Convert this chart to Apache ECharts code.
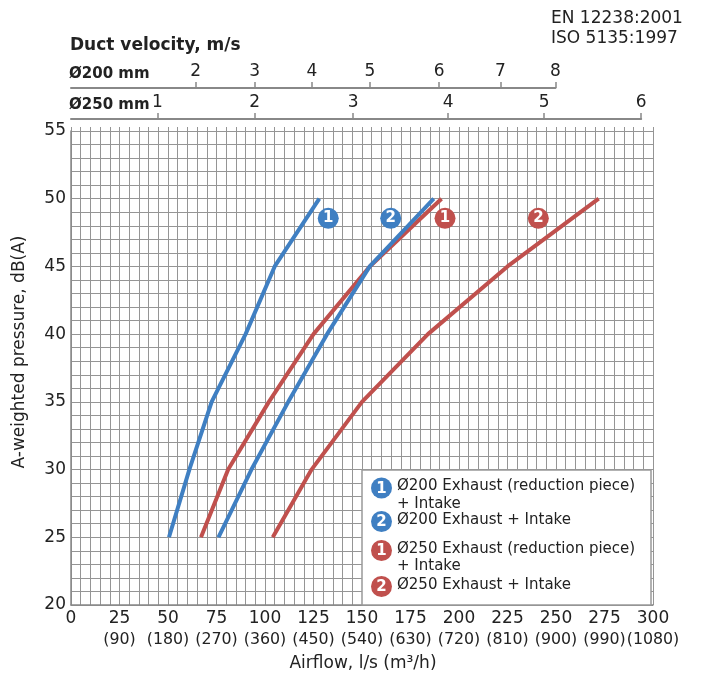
<!DOCTYPE html>
<html><head><meta charset="utf-8">
<script src="https://cdn.jsdelivr.net/npm/echarts@6/dist/echarts.min.js"></script>
<style>html,body{margin:0;padding:0;background:#fff}#c{width:701px;height:684px}</style>
</head><body><div id="c"></div>
<script>
// ---- data ----
const airflowTicks = [0, 25, 50, 75, 100, 125, 150, 175, 200, 225, 250, 275, 300];
const airflowM3h = ['', '(90)', '(180)', '(270)', '(360)', '(450)', '(540)', '(630)', '(720)', '(810)', '(900)', '(990)', '(1080)'];
const dbTicks = [20, 25, 30, 35, 40, 45, 50, 55];

const vel200Labels = ['2', '3', '4', '5', '6', '7', '8'];
const vel200AtAirflow = [64.3, 94.7, 124.2, 154.1, 189.8, 221.3, 249.7];
const vel250Labels = ['1', '2', '3', '4', '5', '6'];
const vel250AtAirflow = [44.5, 94.7, 145.4, 194.4, 243.9, 293.9];

const seriesNames = [
  'Ø200 Exhaust (reduction piece) + Intake',
  'Ø200 Exhaust + Intake',
  'Ø250 Exhaust (reduction piece) + Intake',
  'Ø250 Exhaust + Intake'
];
const seriesNums = ['1', '2', '1', '2'];
const d200Reduction = [[50.5, 25], [61, 30], [72.5, 35], [90, 40], [105, 45], [128, 50]];
const d200Plain     = [[76, 25], [93, 30], [112, 35], [132, 40], [154, 45], [187, 50]];
const d250Reduction = [[67, 25], [81, 30], [102, 35], [125, 40], [154, 45], [191, 50]];
const d250Plain     = [[104, 25], [124, 30], [150, 35], [184, 40], [225, 45], [272, 50]];
const curveMarkerX = [132.6, 164.8, 192.8, 240.9];
const curveMarkerY = [48.55, 48.55, 48.55, 48.55];

// ---- style ----
const BLUE = '#3f7fc2', RED = '#c0504d';
const colors = [BLUE, BLUE, RED, RED];
const FONT = 'DejaVu Sans';
const TXT = '#222';
const GRIDC = '#959595';
const L = 71, T = 131, W = 582, H = 474;
const pxPer = W / 300;

const splitCfg = {
  splitLine: { show: true, lineStyle: { color: GRIDC, width: 1 } },
  minorTick: { show: true, splitNumber: 5, length: 0 },
  minorSplitLine: { show: true, lineStyle: { color: GRIDC, width: 1 } }
};

const chart = echarts.init(document.getElementById('c'));

const allData = [d200Reduction, d200Plain, d250Reduction, d250Plain];
const drawOrder = [3, 2, 1, 0];
const lineSeries = drawOrder.map(i => ({
  name: seriesNames[i], type: 'line', xAxisIndex: 0, yAxisIndex: 0,
  data: allData[i], showSymbol: false, symbol: 'none',
  lineStyle: { color: colors[i], width: 4 }, itemStyle: { color: colors[i] },
  z: 3
}));
const markerSeries = {
  type: 'scatter', xAxisIndex: 0, yAxisIndex: 0, symbol: 'circle', symbolSize: 21, z: 5,
  data: curveMarkerX.map((x, i) => ({
    value: [x, curveMarkerY[i]], itemStyle: { color: colors[i], opacity: 1 },
    label: { show: true, formatter: seriesNums[i], position: 'inside', color: '#fff', fontSize: 15, fontWeight: 'bold', fontFamily: FONT }
  }))
};

// legend graphic
const lgX = 362, lgY = 470, lgW = 289, lgH = 135;
const lgCircleY = [488, 521.5, 550.5, 586.5];
const lgTextLines = [
  [seriesNames[0].replace(' + Intake', ''), '+ Intake'],
  [seriesNames[1]],
  [seriesNames[2].replace(' + Intake', ''), '+ Intake'],
  [seriesNames[3]]
];
const legendEls = [{
  type: 'rect', shape: { x: lgX, y: lgY, width: lgW, height: lgH },
  style: { fill: '#fff', stroke: '#999', lineWidth: 1.5 }, z: 100
}];
lgTextLines.forEach((lines, i) => {
  legendEls.push({ type: 'circle', shape: { cx: 381.5, cy: lgCircleY[i], r: 10.5 }, style: { fill: colors[i] }, z: 101 });
  legendEls.push({ type: 'text', x: 381.5, y: lgCircleY[i] + 1, z: 102,
    style: { text: seriesNums[i], fill: '#fff', font: 'bold 15px ' + FONT, textAlign: 'center', textVerticalAlign: 'middle', align: 'center', verticalAlign: 'middle' } });
  lines.forEach((t, j) => {
    legendEls.push({ type: 'text', x: 397, y: lgCircleY[i] - 1.5 + j * 17.5, z: 102,
      style: { text: t, fill: TXT, font: '15px ' + FONT, textVerticalAlign: 'middle', verticalAlign: 'middle' } });
  });
});

const txt = (text, x, y, font, align) => ({
  type: 'text', x: x, y: y, z: 100,
  style: { text: text, fill: TXT, font: font, textAlign: align || 'left', align: align || 'left', textVerticalAlign: 'middle', verticalAlign: 'middle' }
});

const w200 = vel200AtAirflow[vel200AtAirflow.length - 1] * pxPer;
const w250 = vel250AtAirflow[vel250AtAirflow.length - 1] * pxPer;

const velAxis = (grid, pos, labels) => ({
  gridIndex: grid, type: 'value', position: 'top', min: 0, max: pos[pos.length - 1],
  axisLine: { show: true, onZero: false, lineStyle: { color: '#888', width: 2 } },
  axisTick: { show: true, customValues: pos, length: 6, lineStyle: { color: '#888', width: 1.5 } },
  axisLabel: { customValues: pos, color: TXT, fontSize: 17, fontFamily: FONT, margin: 8, showMinLabel: true, showMaxLabel: true,
    formatter: v => labels[pos.indexOf(v)] || '' },
  splitLine: { show: false }
});

chart.setOption({
  animation: false,
  backgroundColor: '#fff',
  grid: [
    { left: L, top: T, width: W, height: H },
    { left: L, top: T - 4, width: W, height: 4 },
    { left: L, top: 88, width: w200, height: 10 },
    { left: L, top: 119, width: w250, height: 10 }
  ],
  xAxis: [
    Object.assign({
      gridIndex: 0, type: 'value', min: 0, max: 300, interval: 25,
      axisLine: { show: true, onZero: false, lineStyle: { color: '#888', width: 1.5 } },
      axisTick: { show: false },
      axisLabel: {
        color: TXT, fontSize: 17, fontFamily: FONT, lineHeight: 21, margin: 3,
        showMinLabel: true, showMaxLabel: true, hideOverlap: false,
        rich: { b: { fontSize: 15.8, fontFamily: FONT, color: TXT, lineHeight: 21 } },
        formatter: v => { const k = airflowTicks.indexOf(v); return airflowM3h[k] ? v + '\n{b|' + airflowM3h[k] + '}' : String(v); }
      }
    }, splitCfg),
    Object.assign({
      gridIndex: 1, type: 'value', min: 0, max: 300, interval: 25,
      axisLine: { show: false }, axisTick: { show: false }, axisLabel: { show: false }
    }, splitCfg),
    velAxis(2, vel200AtAirflow, vel200Labels),
    velAxis(3, vel250AtAirflow, vel250Labels)
  ],
  yAxis: [
    Object.assign({
      gridIndex: 0, type: 'value', min: dbTicks[0], max: dbTicks[dbTicks.length - 1], interval: 5,
      axisLine: { show: true, onZero: false, lineStyle: { color: '#888', width: 1.5 } },
      axisTick: { show: false },
      axisLabel: { color: TXT, fontSize: 17, fontFamily: FONT, margin: 5, showMinLabel: true, showMaxLabel: true }
    }, splitCfg),
    { gridIndex: 1, type: 'value', show: false, splitLine: { show: false } },
    { gridIndex: 2, type: 'value', show: false, splitLine: { show: false } },
    { gridIndex: 3, type: 'value', show: false, splitLine: { show: false } }
  ],
  series: lineSeries.concat([markerSeries]),
  graphic: { elements: [
    txt('EN 12238:2001', 551, 19, '17px ' + FONT),
    txt('ISO 5135:1997', 551, 39, '17px ' + FONT),
    txt('Duct velocity, m/s', 70, 46, 'bold 17px ' + FONT),
    txt('Ø200 mm', 69, 74, 'bold 15px ' + FONT),
    txt('Ø250 mm', 69, 105, 'bold 15px ' + FONT),
    txt('Airflow, l/s (m³/h)', 363, 664, '17px ' + FONT, 'center'),
    { type: 'text', x: 20, y: 352, rotation: Math.PI / 2, z: 100,
      style: { text: 'A-weighted pressure, dB(A)', fill: TXT, font: '17px ' + FONT, textAlign: 'center', align: 'center', textVerticalAlign: 'middle', verticalAlign: 'middle' } }
  ].concat(legendEls) }
});
</script></body></html>
